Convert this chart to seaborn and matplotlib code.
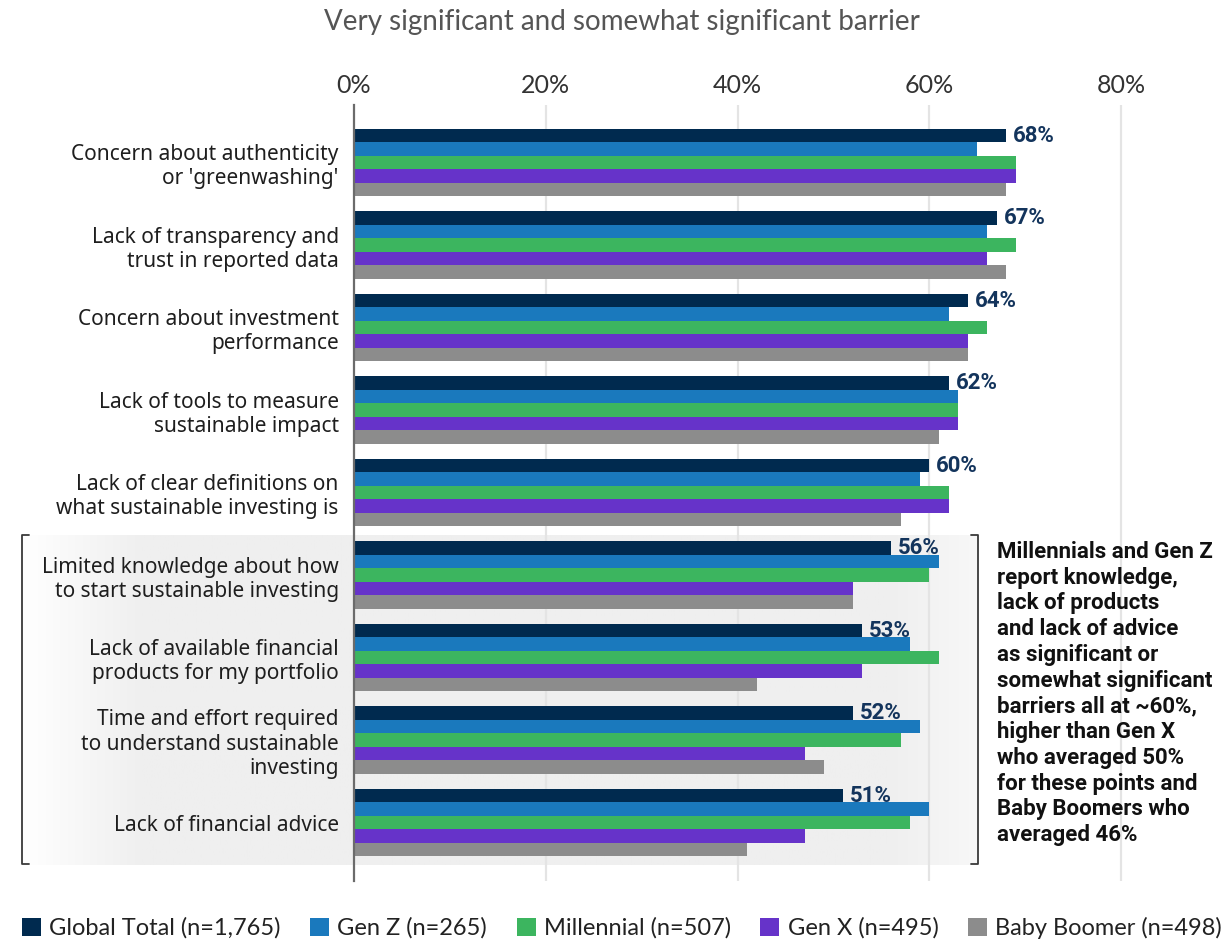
import numpy as np
import pandas as pd
import matplotlib
matplotlib.use("Agg")
import matplotlib.pyplot as plt
import seaborn as sns
from matplotlib.colors import LinearSegmentedColormap
from matplotlib.lines import Line2D
from matplotlib.patches import Patch

# ---- data -------------------------------------------------------------
categories = [
    "Concern about authenticity\nor 'greenwashing'",
    "Lack of transparency and\ntrust in reported data",
    "Concern about investment\nperformance",
    "Lack of tools to measure\nsustainable impact",
    "Lack of clear definitions on\nwhat sustainable investing is",
    "Limited knowledge about how\nto start sustainable investing",
    "Lack of available financial\nproducts for my portfolio",
    "Time and effort required\nto understand sustainable\ninvesting",
    "Lack of financial advice",
]
series = [
    "Global Total (n=1,765)",
    "Gen Z (n=265)",
    "Millennial (n=507)",
    "Gen X (n=495)",
    "Baby Boomer (n=498)",
]
global_total = [68, 67, 64, 62, 60, 56, 53, 52, 51]
gen_z = [65, 66, 62, 63, 59, 61, 58, 59, 60]
millennial = [69, 69, 66, 63, 62, 60, 61, 57, 58]
gen_x = [69, 66, 64, 63, 62, 52, 53, 47, 47]
baby_boomer = [68, 68, 64, 61, 57, 52, 42, 49, 41]
x_ticks = [0, 20, 40, 60, 80]

colors = ["#002a4f", "#1a79bd", "#3cb55f", "#6633c9", "#8c8c8c"]

title_text = "Very significant and somewhat significant barrier"
note_text = ("Millennials and Gen Z\nreport knowledge,\nlack of products\n"
             "and lack of advice\nas significant or\nsomewhat significant\n"
             "barriers all at ~60%,\nhigher than Gen X\nwho averaged 50%\n"
             "for these points and\nBaby Boomers who\naveraged 46%")

values = [global_total, gen_z, millennial, gen_x, baby_boomer]
df = pd.DataFrame({
    "category": categories * len(series),
    "series": np.repeat(series, len(categories)),
    "value": np.concatenate(values),
})

# ---- figure -----------------------------------------------------------
sns.set_theme(style="white")
plt.rcParams["font.family"] = ["Noto Sans", "DejaVu Sans"]
BOLD_FAMILY = ["Roboto", "Liberation Sans", "DejaVu Sans"]
LIGHT_FAMILY = ["Lato", "DejaVu Sans"]

W, H = 1226, 940
fig = plt.figure(figsize=(W / 100, H / 100), dpi=100)
fig.patch.set_facecolor("white")

def fx(px):
    return px / W

def fy(py):
    return 1 - py / H

# shaded band behind the last four barriers
band_left, band_right, band_top, band_bot = 22, 978, 535, 865
bg = fig.add_axes([fx(band_left), fy(band_bot), fx(band_right - band_left),
                   (band_bot - band_top) / H], zorder=0)
xs = np.linspace(0, 1, 600)
span = band_right - band_left
shade = np.interp(xs * span, [0, 120, span - 90, span],
                  [1.0, 0.0, 0.0, 0.55])
cmap = LinearSegmentedColormap.from_list("band", ["#efefef", "#ffffff"])
bg.imshow(shade[np.newaxis, :], aspect="auto", cmap=cmap, vmin=0, vmax=1,
          extent=[0, 1, 0, 1])
bg.set_axis_off()

ax_left, ax_top, ax_bot = 354, 105, 881
px_per_pct = 9.59
xmax = 84
ax = fig.add_axes([fx(ax_left), fy(ax_bot), fx(xmax * px_per_pct),
                   (ax_bot - ax_top) / H], zorder=1)
ax.set_facecolor("none")

sns.barplot(data=df, y="category", x="value", hue="series", orient="h",
            palette=colors, width=0.815, saturation=1, ax=ax, legend=False,
            errorbar=None, linewidth=0, zorder=3)

ax.set_ylim(8.709, -0.697)
ax.set_xlim(0, xmax)
ax.set_xlabel("")
ax.set_ylabel("")

# value labels for the global total
ax.bar_label(ax.containers[0], labels=[f"{v}%" for v in global_total],
             padding=5, fontsize=16, fontweight="bold", color="#13345c",
             family=BOLD_FAMILY)

# axes styling
ax.xaxis.tick_top()
ax.set_xticks(x_ticks)
ax.set_xticklabels([f"{t}%" for t in x_ticks], fontsize=18, color="#333333",
                   family=LIGHT_FAMILY)
ax.tick_params(axis="x", length=0, pad=6)
ax.tick_params(axis="y", length=0, pad=11, labelsize=15, labelcolor="#1e1e1e")
for lbl in ax.get_yticklabels():
    lbl.set_linespacing(1.2)
for t in x_ticks[1:]:
    ax.axvline(t, color="#e4e4e4", lw=1.6, zorder=1)
for s in ["top", "right", "bottom"]:
    ax.spines[s].set_visible(False)
ax.spines["left"].set_color("#6b6b6b")
ax.spines["left"].set_linewidth(1.6)
ax.spines["left"].set_zorder(4)

# brackets around the shaded band
bk = dict(color="#3a3a3a", lw=1.3, transform=fig.transFigure)
fig.add_artist(Line2D([fx(29), fx(22), fx(22), fx(29)],
                      [fy(535), fy(535), fy(864), fy(864)], **bk))
fig.add_artist(Line2D([fx(971), fx(978), fx(978), fx(971)],
                      [fy(535), fy(535), fy(864), fy(864)], **bk))

fig.text(fx(997), fy(541), note_text, ha="left", va="top", fontsize=16,
         fontweight="bold", color="#111111", linespacing=1.22,
         family=BOLD_FAMILY)

fig.text(fx(622), fy(22), title_text, ha="center", va="center", fontsize=20,
         color="#555555", family=LIGHT_FAMILY)

handles = [Patch(facecolor=c, edgecolor="none") for c in colors]
fig.legend(handles, series, loc="center", bbox_to_anchor=(fx(622), fy(928)),
           ncol=5, frameon=False, handlelength=0.8,
           handleheight=0.8, handletextpad=0.35, columnspacing=1.25,
           prop={"family": LIGHT_FAMILY, "size": 17})
for txt in fig.legends[0].get_texts():
    txt.set_color("#222222")

fig.savefig("out.png", dpi=100, facecolor="white")
